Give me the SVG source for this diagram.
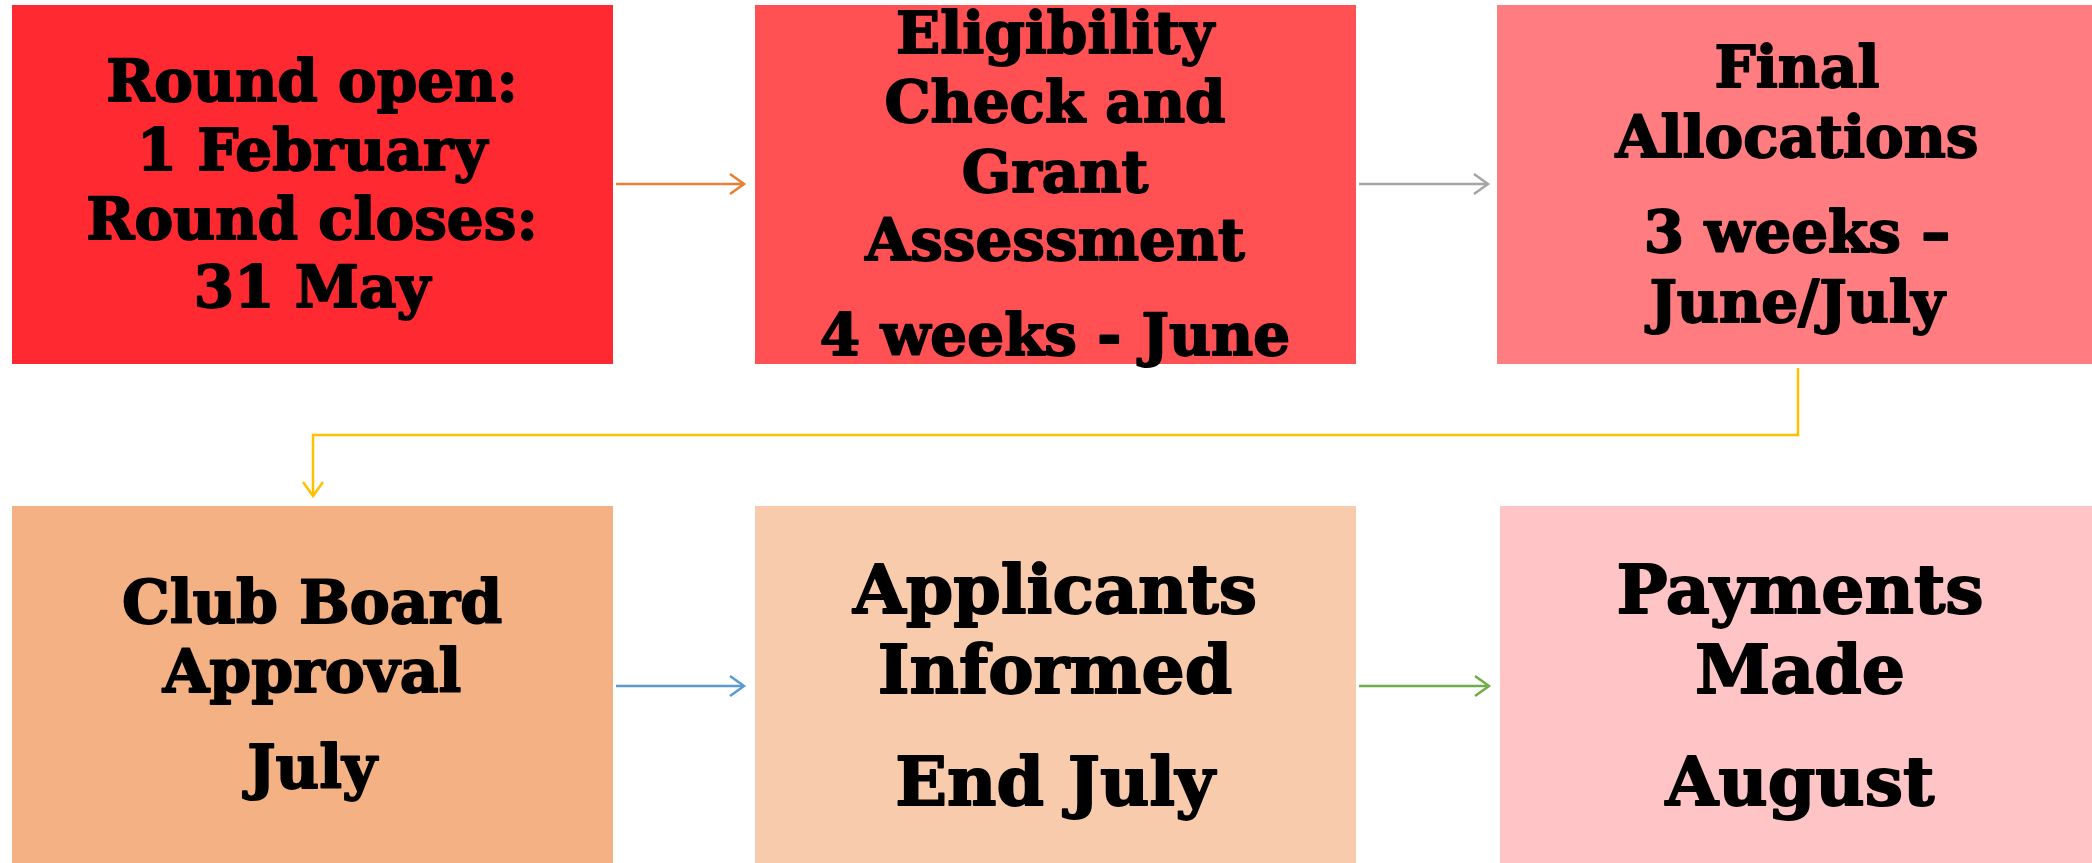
<svg xmlns="http://www.w3.org/2000/svg" width="2092" height="863" viewBox="0 0 2092 863">
<style>
.t{font-family:"DejaVu Serif","Liberation Serif",serif;font-weight:bold;fill:#000;stroke:#000;stroke-width:1.8;stroke-linejoin:round;text-anchor:middle}
.s1{font-size:58px}
.s2{font-size:60px}
.s3{font-size:68px}
.c{fill:none;stroke-width:2.5}
</style>
<defs>
<marker id="aO" markerUnits="userSpaceOnUse" markerWidth="20" markerHeight="24" refX="16" refY="11" orient="auto"><path d="M2,1 L16,11 L2,21" fill="none" stroke="#ED7D31" stroke-width="2.5"/></marker>
<marker id="aG" markerUnits="userSpaceOnUse" markerWidth="20" markerHeight="24" refX="16" refY="11" orient="auto"><path d="M2,1 L16,11 L2,21" fill="none" stroke="#A5A5A5" stroke-width="2.5"/></marker>
<marker id="aY" markerUnits="userSpaceOnUse" markerWidth="20" markerHeight="24" refX="16" refY="11" orient="auto"><path d="M2,1 L16,11 L2,21" fill="none" stroke="#FFC000" stroke-width="2.5"/></marker>
<marker id="aB" markerUnits="userSpaceOnUse" markerWidth="20" markerHeight="24" refX="16" refY="11" orient="auto"><path d="M2,1 L16,11 L2,21" fill="none" stroke="#5B9BD5" stroke-width="2.5"/></marker>
<marker id="aN" markerUnits="userSpaceOnUse" markerWidth="20" markerHeight="24" refX="16" refY="11" orient="auto"><path d="M2,1 L16,11 L2,21" fill="none" stroke="#70AD47" stroke-width="2.5"/></marker>
</defs>
<rect width="2092" height="863" fill="#fff"/>
<g id="connectors">
<path class="c" d="M616,184 H744" stroke="#ED7D31" marker-end="url(#aO)"/>
<path class="c" d="M1359,184 H1488" stroke="#A5A5A5" marker-end="url(#aG)"/>
<path class="c" d="M1798,368 V435 H313 V496" stroke="#FFC000" marker-end="url(#aY)"/>
<path class="c" d="M616,686 H744" stroke="#5B9BD5" marker-end="url(#aB)"/>
<path class="c" d="M1359,686 H1489" stroke="#70AD47" marker-end="url(#aN)"/>
</g>
<g id="node1">
<rect x="12" y="5" width="601" height="359" fill="#FF2A31"/>
<text class="t s1" x="312" y="101">Round open:</text>
<text class="t s1" x="312" y="170">1 February</text>
<text class="t s1" x="312" y="239">Round closes:</text>
<text class="t s1" x="312" y="307">31 May</text>
</g>
<g id="node2">
<rect x="755" y="5" width="601" height="359" fill="#FF5153"/>
<text class="t s1" x="1055" y="53">Eligibility</text>
<text class="t s1" x="1055" y="122">Check and</text>
<text class="t s1" x="1055" y="192">Grant</text>
<text class="t s1" x="1055" y="260">Assessment</text>
<text class="t s1" x="1055" y="355">4 weeks - June</text>
</g>
<g id="node3">
<rect x="1497" y="5" width="595" height="359" fill="#FF7C80"/>
<text class="t s1" x="1797" y="87">Final</text>
<text class="t s1" x="1797" y="157">Allocations</text>
<text class="t s1" x="1797" y="252">3 weeks –</text>
<text class="t s1" x="1797" y="322">June/July</text>
</g>
<g id="node4">
<rect x="12" y="506" width="601" height="357" fill="#F4B183"/>
<text class="t s2" x="312" y="623">Club Board</text>
<text class="t s2" x="312" y="692">Approval</text>
<text class="t s2" x="312" y="788">July</text>
</g>
<g id="node5">
<rect x="755" y="506" width="601" height="357" fill="#F8CBAD"/>
<text class="t s3" x="1055" y="613">Applicants</text>
<text class="t s3" x="1055" y="693">Informed</text>
<text class="t s3" x="1055" y="805">End July</text>
</g>
<g id="node6">
<rect x="1500" y="506" width="592" height="357" fill="#FFC5C6"/>
<text class="t s3" x="1800" y="613">Payments</text>
<text class="t s3" x="1800" y="693">Made</text>
<text class="t s3" x="1800" y="805">August</text>
</g>
</svg>
